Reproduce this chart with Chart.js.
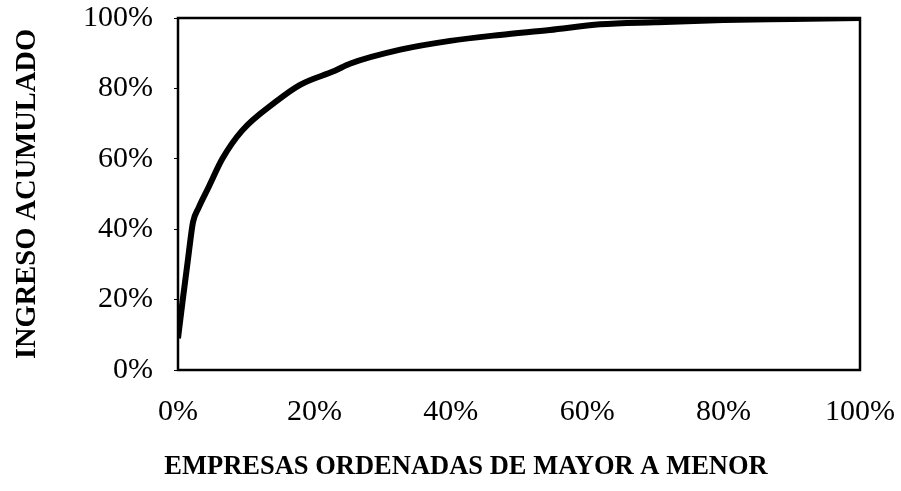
<!DOCTYPE html>
<html>
<head>
<meta charset="utf-8">
<script src="https://cdn.jsdelivr.net/npm/chart.js@4"></script>
<style>
  html, body { margin: 0; padding: 0; background: #fff; }
</style>
</head>
<body>
<canvas id="lorenz-chart" width="901" height="491"></canvas>
<script>
// Cumulative share of firms (x, %) vs cumulative revenue (y, %)
const firmShare = [0, 0.7, 1.5, 2.2, 3.0, 4.5, 6.5, 9.4, 14.2, 17.9, 23, 25.2, 32.6, 39.9, 47.2, 54.5, 61.9, 70, 80, 90, 100];
const revenueShare = [9, 20, 32, 42, 46, 52, 60, 68, 76, 81, 85, 87, 91, 93.5, 95.2, 96.6, 98.2, 98.8, 99.4, 99.7, 100];
const tickValues = [0, 20, 40, 60, 80, 100];
const xTitle = 'EMPRESAS ORDENADAS DE MAYOR A MENOR';
const yTitle = 'INGRESO ACUMULADO';

const points = firmShare.map((x, i) => ({ x: x, y: revenueShare[i] }));

const serif = '"Liberation Serif", "Times New Roman", serif';

// closed box around the plot area + x title (it sits left of the plot centre in the original)
const frameBox = {
    id: 'frameBox',
    afterDatasetsDraw(chart) {
        const { ctx, chartArea: a } = chart;
        ctx.save();
        ctx.strokeStyle = '#000';
        ctx.lineWidth = 2.5;
        ctx.strokeRect(a.left, a.top, a.right - a.left, a.bottom - a.top);
        ctx.fillStyle = '#000';
        ctx.font = 'bold 26.5px ' + serif;
        ctx.textAlign = 'center';
        ctx.textBaseline = 'middle';
        ctx.fillText(xTitle, 466, 467);
        ctx.restore();
    }
};

const ctxLorenz = document.getElementById('lorenz-chart').getContext('2d');
const lorenzChart = new Chart(ctxLorenz, {
    type: 'scatter',
    data: {
        datasets: [{
            data: points,
            showLine: true,
            borderColor: '#000',
            borderWidth: 6,
            pointRadius: 0,
            cubicInterpolationMode: 'monotone',
            fill: false,
        }]
    },
    options: {
        responsive: false,
        animation: false,
        layout: { padding: { top: 18, right: 41, left: 0, bottom: 0 } },
        plugins: {
            legend: { display: false },
            tooltip: { enabled: false },
        },
        scales: {
            x: {
                type: 'linear',
                min: 0,
                max: 100,
                afterFit: (s) => { s.height = 121; s.paddingLeft = 0; s.paddingRight = 0; },
                afterBuildTicks: (s) => { s.ticks = tickValues.map(v => ({ value: v })); },
                grid: { display: false, drawTicks: false },
                border: { display: false },
                ticks: {
                    color: '#000',
                    padding: 24,
                    maxRotation: 0,
                    font: { family: serif, size: 30 },
                    callback: (v) => v + '%',
                },
                title: { display: false },
            },
            y: {
                type: 'linear',
                min: 0,
                max: 100,
                afterFit: (s) => { s.width = 178; s.paddingTop = 0; s.paddingBottom = 0; },
                afterBuildTicks: (s) => { s.ticks = tickValues.map(v => ({ value: v })); },
                grid: { display: true, drawOnChartArea: false, drawTicks: true, tickLength: 4, color: '#000' },
                border: { display: false },
                ticks: {
                    color: '#000',
                    padding: 21,
                    font: { family: serif, size: 30 },
                    callback: (v) => v + '%',
                },
                title: {
                    display: true,
                    text: yTitle,
                    color: '#000',
                    font: { family: serif, size: 28.5, weight: 'bold' },
                    padding: { top: 11, bottom: 0 },
                },
            },
        },
    },
    plugins: [frameBox],
});
</script>
</body>
</html>
